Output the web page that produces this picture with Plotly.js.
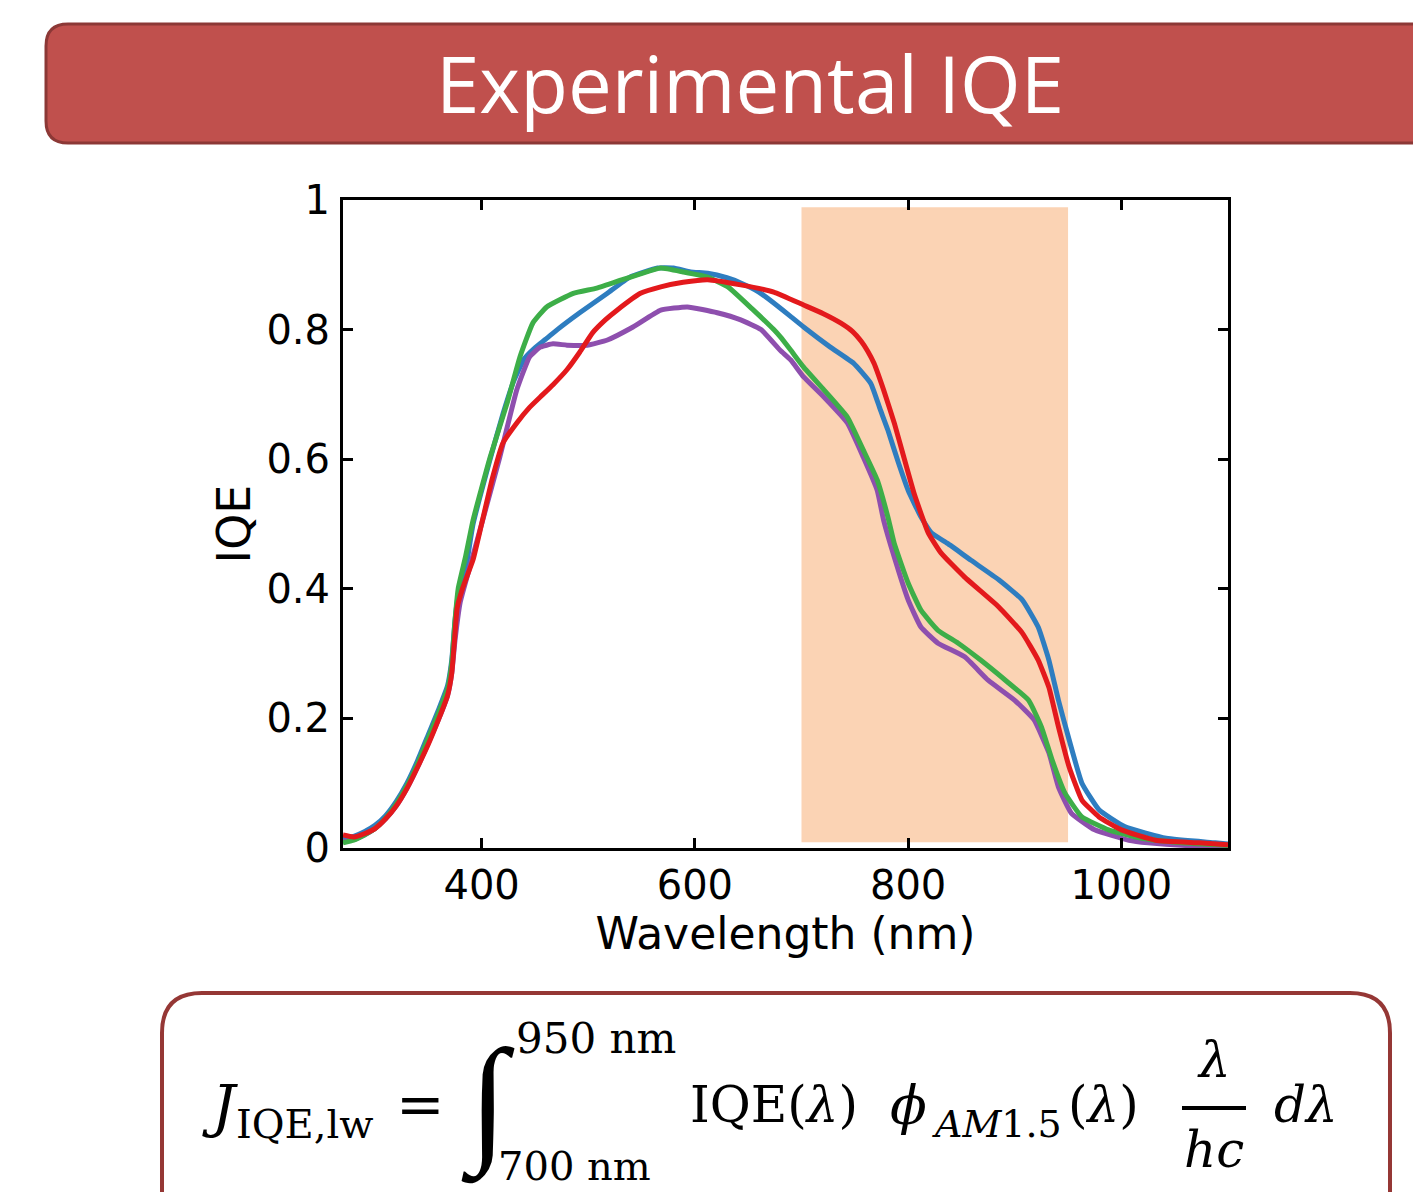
<!DOCTYPE html>
<html>
<head>
<meta charset="utf-8">
<script src="https://cdn.plot.ly/plotly-3.0.1.min.js"></script>
<style>html,body{margin:0;padding:0;background:#fff;}#chart{width:1413px;height:1192px;}</style>
</head>
<body>
<div id="chart"></div>
<script>
// ---------- data ----------
const blueWl = [270,280,290,300,310,320,330,340,350,360,368,372,375,378,385,392,408,420,430,440,450,460,471,492,518,539,565,580,596,612,630,643,660,674,690,702,727,749,765,774,781,791,800,812,822,837,859,885,907,922,932,941,951,963,979,1003,1042,1088,1100];
const blueIqe = [0.015,0.018,0.025,0.035,0.05,0.072,0.10,0.135,0.175,0.215,0.25,0.29,0.35,0.39,0.43,0.50,0.60,0.67,0.72,0.755,0.772,0.785,0.80,0.826,0.856,0.881,0.895,0.895,0.889,0.887,0.88,0.872,0.858,0.841,0.82,0.804,0.773,0.748,0.717,0.676,0.645,0.594,0.552,0.511,0.486,0.47,0.444,0.414,0.383,0.341,0.29,0.228,0.167,0.10,0.059,0.033,0.015,0.008,0.006];

const purpleWl = [270,280,290,300,310,320,330,340,350,360,368,372,375,380,390,401,417,433,445,455,467,480,499,518,542,568,593,621,643,662,680,690,702,721,743,758,771,777,787,800,812,828,853,875,900,918,932,941,953,975,1007,1025,1060,1100];
const purpleIqe = [0.01,0.013,0.02,0.03,0.045,0.065,0.092,0.125,0.162,0.2,0.235,0.27,0.32,0.38,0.44,0.506,0.603,0.707,0.758,0.773,0.778,0.776,0.776,0.784,0.804,0.83,0.835,0.826,0.815,0.80,0.768,0.753,0.727,0.696,0.656,0.603,0.552,0.506,0.449,0.383,0.341,0.316,0.295,0.259,0.228,0.198,0.147,0.094,0.054,0.028,0.012,0.008,0.004,0.003];

const greenWl = [270,280,290,300,310,320,330,340,350,360,368,372,375,378,385,392,408,424,436,448,461,486,508,532,549,568,589,612,631,655,674,680,690,702,721,743,758,771,781,787,800,812,828,847,868,894,913,925,935,947,963,988,1019,1057,1100];
const greenIqe = [0.008,0.012,0.02,0.03,0.046,0.068,0.096,0.13,0.17,0.21,0.245,0.285,0.35,0.40,0.45,0.506,0.603,0.687,0.758,0.81,0.835,0.856,0.864,0.877,0.886,0.895,0.889,0.881,0.866,0.83,0.80,0.789,0.768,0.742,0.707,0.665,0.614,0.568,0.511,0.47,0.409,0.367,0.336,0.316,0.29,0.255,0.228,0.187,0.136,0.085,0.048,0.028,0.015,0.008,0.004];

const redWl = [270,280,290,300,310,320,330,340,350,360,368,372,375,377,382,392,400,410,420,433,445,455,467,480,492,504,516,527,549,568,589,612,643,674,702,720,737,748,756,762,768,777,787,796,806,819,831,853,885,907,922,932,941,951,963,979,1000,1032,1073,1100];
const redIqe = [0.02,0.017,0.022,0.03,0.045,0.065,0.092,0.125,0.16,0.20,0.235,0.27,0.33,0.37,0.40,0.445,0.50,0.57,0.625,0.656,0.68,0.696,0.715,0.738,0.765,0.795,0.815,0.83,0.856,0.866,0.873,0.877,0.869,0.858,0.838,0.825,0.81,0.797,0.782,0.767,0.748,0.707,0.656,0.603,0.545,0.486,0.455,0.418,0.372,0.332,0.29,0.248,0.187,0.125,0.074,0.048,0.028,0.012,0.008,0.005];

const bandRange = [700, 950];          // integration window (nm)
const xTicks = [400, 600, 800, 1000];
const yTicks = [0, 0.2, 0.4, 0.6, 0.8, 1];
const yTickText = ["0", "0.2", "0.4", "0.6", "0.8", "1"];
const titleText = "Experimental IQE";
const xTitle = "Wavelength (nm)";
const yTitle = "IQE";

// ---------- layout helpers ----------
const W = 1413, H = 1192;
const M = {l: 343, r: 185, t: 200, b: 344};
const PW = W - M.l - M.r, PH = H - M.t - M.b;
const PX = p => (p - M.l) / PW;
const PY = p => (H - M.b - p) / PH;
function roundRect(x0, y0, x1, y1, r) {
  const f = (x, y) => PX(x).toFixed(5) + ',' + PY(y).toFixed(5);
  return 'M ' + f(x0 + r, y0) + ' L ' + f(x1 - r, y0) + ' Q ' + f(x1, y0) + ' ' + f(x1, y0 + r) +
         ' L ' + f(x1, y1 - r) + ' Q ' + f(x1, y1) + ' ' + f(x1 - r, y1) +
         ' L ' + f(x0 + r, y1) + ' Q ' + f(x0, y1) + ' ' + f(x0, y1 - r) +
         ' L ' + f(x0, y0 + r) + ' Q ' + f(x0, y0) + ' ' + f(x0 + r, y0) + ' Z';
}
function ann(text, x, y, size, xanchor, family, weight) {
  const font = {family: family || 'DejaVu Serif', size: size, color: '#000'};
  if (weight) font.weight = weight;
  return {xref: 'paper', yref: 'paper', x: PX(x), y: PY(y), xanchor: xanchor || 'left', yanchor: 'middle',
          text: text, showarrow: false, font: font};
}

const lineW = 5;
const lineStyle = c => ({color: c, width: lineW, shape: 'spline', smoothing: 0.4});
const traces = [
  {x: blueWl, y: blueIqe, name: 'blue', mode: 'lines', line: lineStyle('#2E7DC0')},
  {x: purpleWl, y: purpleIqe, name: 'purple', mode: 'lines', line: lineStyle('#8E4FAE')},
  {x: greenWl, y: greenIqe, name: 'green', mode: 'lines', line: lineStyle('#3DAE48')},
  {x: redWl, y: redIqe, name: 'red', mode: 'lines', line: lineStyle('#E3191C')}
];

const axisCommon = {
  showline: true, linecolor: '#000', linewidth: 3, mirror: 'ticks',
  ticks: 'inside', ticklen: 10, tickwidth: 3, tickcolor: '#000',
  showgrid: false, zeroline: false,
  tickfont: {family: 'DejaVu Sans', size: 40, color: '#000'}
};

const layout = {
  width: W, height: H,
  margin: M,
  paper_bgcolor: '#fff', plot_bgcolor: 'rgba(0,0,0,0)',
  showlegend: false,
  title: {text: titleText, x: 750 / W, xanchor: 'center', xref: 'container',
          y: 1 - 86 / H, yanchor: 'middle', yref: 'container',
          font: {family: 'Open Sans', size: 78, color: '#fff'}},
  xaxis: Object.assign({}, axisCommon, {
    range: [270, 1100], tickvals: xTicks, ticklabelstandoff: 0,
    title: {text: xTitle, standoff: 0, font: {family: 'DejaVu Sans', size: 44, color: '#000'}}
  }),
  yaxis: Object.assign({}, axisCommon, {
    range: [0, 1], tickvals: yTicks, ticktext: yTickText, ticklabelstandoff: 2,
    title: {text: yTitle, standoff: 2, font: {family: 'DejaVu Sans', size: 46, color: '#000'}}
  }),
  shapes: [
    // highlighted integration window
    {type: 'rect', xref: 'x', yref: 'y', x0: bandRange[0], x1: bandRange[1], y0: 0.009, y1: 0.989,
     fillcolor: '#FBD3B4', line: {width: 0}, layer: 'below'},
    // title banner
    {type: 'path', xref: 'paper', yref: 'paper', path: roundRect(46, 24, 1450, 143, 22),
     fillcolor: '#C0504D', line: {color: '#8C3836', width: 3}, layer: 'above'},
    // formula box
    {type: 'path', xref: 'paper', yref: 'paper', path: roundRect(162, 993, 1390, 1240, 40),
     fillcolor: 'rgba(255,255,255,0)', line: {color: '#953735', width: 4}, layer: 'above'},
    // fraction bar
    {type: 'line', xref: 'paper', yref: 'paper', x0: PX(1182), x1: PX(1246), y0: PY(1108), y1: PY(1108),
     line: {color: '#000', width: 4}, layer: 'above'}
  ],
  annotations: [
    ann('<i>J</i>', 200, 1106, 58),
    ann('IQE,lw', 234, 1124, 40),
    ann('=', 420, 1104, 58, 'center'),
    ann('∫', 488, 1100, 140, 'center', 'DejaVu Sans', 200),
    ann('950 nm', 514, 1038, 42),
    ann('700 nm', 496, 1166, 40),
    ann('IQE(<i>λ</i>)', 688, 1105, 50),
    ann('<i>ϕ</i>', 888, 1105, 54),
    ann('<i>AM</i>1.5', 930, 1124, 38),
    ann('(<i>λ</i>)', 1066, 1105, 50),
    ann('<i>λ</i>', 1214, 1060, 50, 'center'),
    ann('<i>hc</i>', 1214, 1150, 50, 'center'),
    ann('<i>dλ</i>', 1272, 1105, 50)
  ]
};

Plotly.newPlot('chart', traces, layout, {displayModeBar: false, staticPlot: true});
</script>
</body>
</html>
